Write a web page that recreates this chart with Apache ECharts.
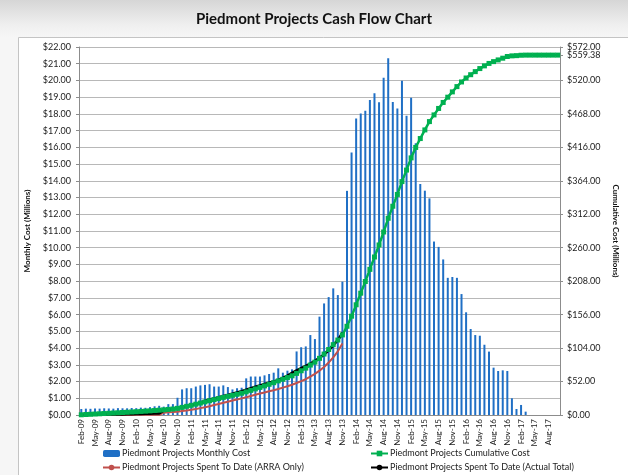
<!DOCTYPE html>
<html>
<head>
<meta charset="utf-8">
<script src="https://cdn.jsdelivr.net/npm/echarts@6/dist/echarts.min.js"></script>
<style>
  html, body { margin: 0; padding: 0; }
  body { background: linear-gradient(to bottom, #d6d6d6 0px, #efefef 25px, #f6f6f6 37px); }
  #main { width: 628px; height: 475px; }
</style>
</head>
<body>
<div id="main"></div>
<script>
var months = [
  'Feb-09','Mar-09','Apr-09','May-09','Jun-09','Jul-09','Aug-09','Sep-09','Oct-09','Nov-09','Dec-09',
  'Jan-10','Feb-10','Mar-10','Apr-10','May-10','Jun-10','Jul-10','Aug-10','Sep-10','Oct-10','Nov-10','Dec-10',
  'Jan-11','Feb-11','Mar-11','Apr-11','May-11','Jun-11','Jul-11','Aug-11','Sep-11','Oct-11','Nov-11','Dec-11',
  'Jan-12','Feb-12','Mar-12','Apr-12','May-12','Jun-12','Jul-12','Aug-12','Sep-12','Oct-12','Nov-12','Dec-12',
  'Jan-13','Feb-13','Mar-13','Apr-13','May-13','Jun-13','Jul-13','Aug-13','Sep-13','Oct-13','Nov-13','Dec-13',
  'Jan-14','Feb-14','Mar-14','Apr-14','May-14','Jun-14','Jul-14','Aug-14','Sep-14','Oct-14','Nov-14','Dec-14',
  'Jan-15','Feb-15','Mar-15','Apr-15','May-15','Jun-15','Jul-15','Aug-15','Sep-15','Oct-15','Nov-15','Dec-15',
  'Jan-16','Feb-16','Mar-16','Apr-16','May-16','Jun-16','Jul-16','Aug-16','Sep-16','Oct-16','Nov-16','Dec-16',
  'Jan-17','Feb-17','Mar-17','Apr-17','May-17','Jun-17','Jul-17','Aug-17','Sep-17','Oct-17'
]

// monthly cost, $M (left axis)
var monthlyCost = [
  0.36,0.38,0.37,0.39,0.38,0.40,0.39,0.38,0.41,0.40,0.40,
  0.42,0.41,0.44,0.43,0.47,0.52,0.55,0.50,0.65,0.65,1.03,1.53,
  1.60,1.60,1.70,1.77,1.80,1.84,1.70,1.70,1.77,1.67,1.53,1.60,
  1.63,2.19,2.30,2.30,2.30,2.37,2.45,2.53,2.79,2.53,2.65,2.73,
  3.80,4.05,4.10,4.78,4.54,5.88,6.67,7.05,7.57,7.17,7.97,13.40,
  15.70,17.73,18.03,18.19,18.83,19.23,18.70,20.16,21.32,18.71,18.33,19.98,
  17.89,18.97,16.24,13.81,13.41,12.95,10.37,10.05,9.30,8.20,8.25,8.20,
  7.23,6.14,5.14,4.78,4.74,4.20,3.79,2.83,2.63,2.67,2.63,1.00,
  0.36,0.60,0.20,null,null,null,null,null,null,null
]

// cumulative cost, $M (right axis)
var cumulativeCost = [
  0.36,0.74,1.11,1.50,1.88,2.28,2.67,3.05,3.46,3.86,4.26,
  4.68,5.09,5.53,5.96,6.43,6.95,7.50,8.00,8.65,9.30,10.33,11.86,
  13.46,15.06,16.76,18.53,20.33,22.17,23.87,25.57,27.34,29.01,30.54,32.14,
  33.77,35.96,38.26,40.56,42.86,45.23,47.68,50.21,53.00,55.53,58.18,60.91,
  64.71,68.76,72.86,77.64,82.18,88.06,94.73,101.78,109.35,116.52,124.49,137.89,
  153.59,171.32,189.35,207.54,226.37,245.60,264.30,284.46,305.78,324.49,342.82,362.80,
  380.69,399.66,415.90,429.71,443.12,456.07,466.44,476.49,485.79,493.99,502.24,510.44,
  517.67,523.81,528.95,533.73,538.47,542.67,546.46,549.29,551.92,554.59,557.22,558.22,
  558.58,559.18,559.38,559.38,559.38,559.38,559.38,559.38,559.38,559.38
]

// spent to date, ARRA only (right axis)
var spentArra = [
  0,0,0,0,0,0,0,0,0.1,0.1,0.1,
  0.1,0.2,0.2,0.2,0.2,0.3,0.3,3.6,4.1,4.6,5.2,6.1,
  7.0,8.0,9.3,10.7,12.1,13.6,15.4,17.2,19.0,20.7,22.4,24.1,
  25.8,27.6,29.5,31.4,33.3,35.0,36.8,38.6,40.5,42.6,44.7,47.0,
  49.8,52.6,55.6,59.5,64.0,69.0,74.5,81.5,89.5,99.0,111.0
]

// spent to date, actual total (right axis)
var spentActual = [
  0,0.1,0.2,0.3,0.4,0.5,0.6,0.7,0.8,0.9,1.0,
  1.2,1.4,1.6,1.8,2.0,2.2,2.5,6.7,7.8,9.0,10.4,11.8,
  13.2,14.7,17.0,19.4,21.8,24.0,25.8,27.6,29.4,31.0,33.0,35.0,
  37.0,39.5,41.7,43.9,46.0,48.2,50.3,52.3,54.4,57.6,61.3,65.6,
  69.2,72.8,76.2,79.8,84.2,88.9,93.8,100.5,108.0,116.5,128.0
]

var rightTicks = [0,52,104,156,208,260,312,364,416,468,520,572]
var finalTotal = [559.38]

var font = 'Lato'
var money = function (v) { return '$' + Number(v).toFixed(2) }

var chart = echarts.init(document.getElementById('main'))

var legendBase = {
  orient: 'vertical',
  top: 449,
  padding: 0,
  itemWidth: 17,
  itemHeight: 7,
  itemGap: 5,
  textStyle: { fontSize: 9, color: '#222', padding: [0, 0, 0, -3] }
}

var rightAxis = function (ticks, extra) {
  return echarts.util.extend({
    type: 'value',
    min: 0,
    max: 572,
    position: 'right',
    axisLine: { show: true, lineStyle: { color: '#8c8c8c' } },
    axisTick: { show: true, length: 3, customValues: ticks, lineStyle: { color: '#8c8c8c' } },
    axisLabel: {
      fontSize: 9, color: '#222', margin: 7, customValues: ticks, formatter: money,
      showMaxLabel: true, showMinLabel: true, hideOverlap: false
    },
    splitLine: { show: false }
  }, extra)
}

chart.setOption({
  animation: false,
  textStyle: { fontFamily: font },
  title: {
    text: 'Piedmont Projects Cash Flow Chart',
    left: 'center',
    top: 7,
    textStyle: { fontFamily: font, fontSize: 15, fontWeight: 'bold', color: '#111' }
  },
  graphic: [{
    type: 'rect',
    z: -10,
    silent: true,
    shape: { x: 18.5, y: 37.5, width: 620, height: 450 },
    style: { fill: '#ffffff', stroke: '#c4c4c4', lineWidth: 1 }
  }],
  legend: [
    echarts.util.extend({
      left: 102,
      data: ['Piedmont Projects Monthly Cost', 'Piedmont Projects Spent To Date (ARRA Only)']
    }, legendBase),
    echarts.util.extend({
      left: 370,
      data: ['Piedmont Projects Cumulative Cost', 'Piedmont Projects Spent To Date (Actual Total)']
    }, legendBase)
  ],
  grid: { left: 79, right: 68, top: 47, bottom: 60 },
  xAxis: {
    type: 'category',
    data: months,
    axisLine: { lineStyle: { color: '#8c8c8c' } },
    axisTick: { interval: 2, alignWithLabel: true, length: 3, lineStyle: { color: '#8c8c8c' } },
    axisLabel: { interval: 2, rotate: 90, fontSize: 8, color: '#222', margin: 4 }
  },
  yAxis: [{
    type: 'value',
    min: 0,
    max: 22,
    interval: 1,
    name: 'Monthly Cost (Millions)',
    nameLocation: 'middle',
    nameRotate: 90,
    nameGap: 45,
    nameTextStyle: { fontSize: 8, fontWeight: 'bold', color: '#111' },
    axisLine: { show: true, lineStyle: { color: '#8c8c8c' } },
    axisTick: { show: true, length: 3, lineStyle: { color: '#8c8c8c' } },
    axisLabel: { fontSize: 9, color: '#222', margin: 8, formatter: money },
    splitLine: { lineStyle: { color: '#b8b8b8', width: 1 } }
  },
  rightAxis(rightTicks, {
    name: 'Cumulative Cost (Millions)',
    nameLocation: 'middle',
    nameRotate: -90,
    nameGap: 50,
    nameTextStyle: { fontSize: 8, fontWeight: 'bold', color: '#111' }
  }),
  // second right axis only carries the final total label
  rightAxis(finalTotal, { axisLine: { show: false } })
  ],
  series: [{
    name: 'Piedmont Projects Monthly Cost',
    type: 'bar',
    yAxisIndex: 0,
    barWidth: 2,
    itemStyle: { color: '#1f6fc5' },
    data: monthlyCost
  }, {
    name: 'Piedmont Projects Cumulative Cost',
    type: 'line',
    yAxisIndex: 1,
    symbol: 'rect',
    symbolSize: 5,
    showAllSymbol: true,
    lineStyle: { color: '#00b050', width: 2.5 },
    itemStyle: { color: '#00b050' },
    data: cumulativeCost
  }, {
    name: 'Piedmont Projects Spent To Date (ARRA Only)',
    type: 'line',
    yAxisIndex: 1,
    symbol: 'none',
    lineStyle: { color: '#c0504d', width: 2 },
    itemStyle: { color: '#c0504d' },
    data: spentArra
  }, {
    name: 'Piedmont Projects Spent To Date (Actual Total)',
    type: 'line',
    yAxisIndex: 1,
    symbol: 'none',
    lineStyle: { color: '#000000', width: 2.5 },
    itemStyle: { color: '#000000' },
    data: spentActual
  }]
})
</script>
</body>
</html>
